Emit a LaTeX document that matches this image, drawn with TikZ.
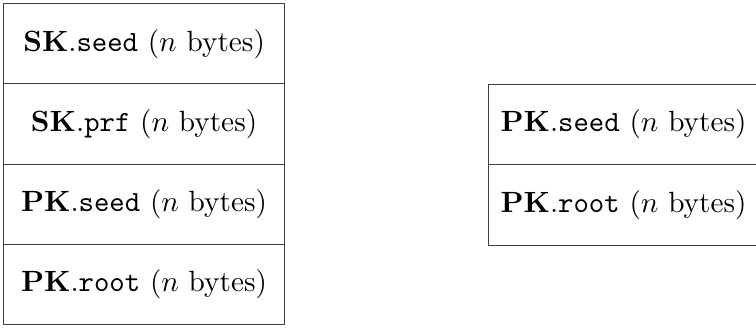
\documentclass[tikz,border=0pt]{standalone}
\begin{document}
\begin{tikzpicture}[x=0.3413pt,y=-0.3413pt,
  cell/.style={draw=black!75,line width=0.4pt,rectangle,inner sep=0pt,anchor=north west,
    minimum width=281*0.3413pt,minimum height=80.25*0.3413pt},
  rcell/.style={cell,minimum width=270*0.3413pt,minimum height=80.5*0.3413pt}]
\useasboundingbox (0,0) rectangle (756,327);
\node[cell] (a) at (3,3) {\textbf{SK}.\texttt{seed} ($n$ bytes)};
\node[cell] (b) at (3,83.25) {\textbf{SK}.\texttt{prf} ($n$ bytes)};
\node[cell] (c) at (3,163.5) {\textbf{PK}.\texttt{seed} ($n$ bytes)};
\node[cell] (d) at (3,243.75) {\textbf{PK}.\texttt{root} ($n$ bytes)};
\node[rcell] (e) at (488,83.5) {\textbf{PK}.\texttt{seed} ($n$ bytes)};
\node[rcell] (f) at (488,164) {\textbf{PK}.\texttt{root} ($n$ bytes)};
\end{tikzpicture}
\end{document}
